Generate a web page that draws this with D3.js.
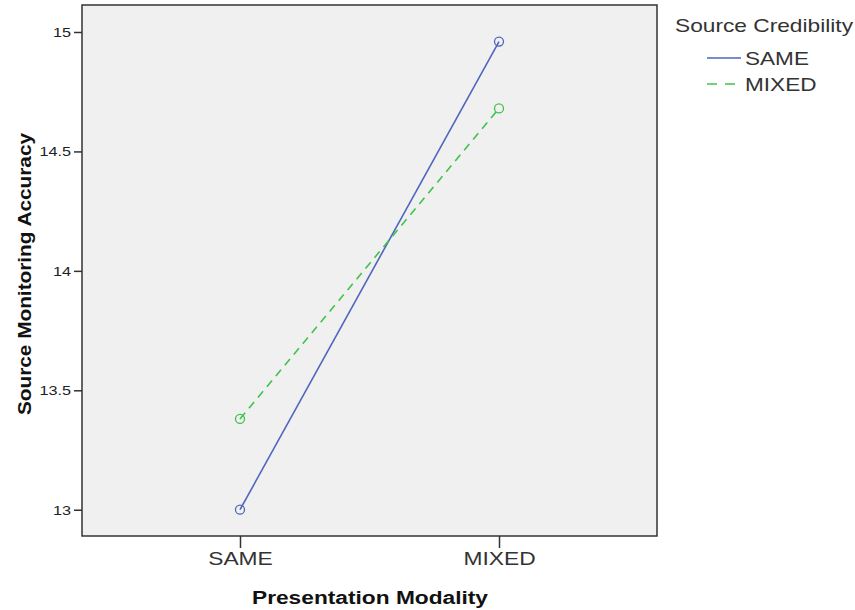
<!DOCTYPE html>
<html>
<head>
<meta charset="utf-8">
<script src="https://cdn.jsdelivr.net/npm/d3@7"></script>
<style>
  body { margin: 0; background: #fff; }
  text { font-family: "Liberation Sans", Arial, sans-serif; }
</style>
</head>
<body>
<div class="chart"></div>
<script>
var modalities = ['SAME', 'MIXED'];
var credibility = ['SAME', 'MIXED'];
var sameValues = [13.00, 14.96];
var mixedValues = [13.38, 14.68];
var yTicks = [13, 13.5, 14, 14.5, 15];
var colors = ['#4f66bd', '#3ec34a'];

var margin = { top: 5, right: 198, bottom: 74, left: 82 };
var width = 855 - margin.left - margin.right;
var height = 610 - margin.top - margin.bottom;

// the reference text is drawn a bit wider than Arial, stretch it
function stretch(sel, k) {
  sel.each(function () {
    var w = this.getComputedTextLength();
    d3.select(this)
      .attr('textLength', w * k)
      .attr('lengthAdjust', 'spacingAndGlyphs');
  });
}

var svg = d3.select('.chart')
  .append('svg')
    .attr('width', 855)
    .attr('height', 610)
  .append('g')
    .attr('transform', `translate(${margin.left}, ${margin.top})`);

svg.append('rect')
  .attr('width', width)
  .attr('height', height)
  .style('fill', '#f0f0f0');

// scales
const xScale = d3.scalePoint()
  .domain(modalities)
  .range([0, width])
  .padding(0.61);

const yScale = d3.scaleLinear()
  .domain([12.89, 15.113])
  .range([height, 0]);

// y axis
const yAxis = d3.axisLeft(yScale)
  .tickValues(yTicks)
  .tickFormat(d3.format('~g'))
  .tickSize(8)
  .tickPadding(3);
const gy = svg.append('g').call(yAxis);
gy.select('.domain').remove();
gy.selectAll('line').attr('stroke', '#333').attr('stroke-width', 1.5);
gy.selectAll('text').style('font-size', '13.5px').attr('fill', '#222').call(stretch, 1.2);

// x axis
const xAxis = d3.axisBottom(xScale)
  .tickSize(12)
  .tickPadding(4);
const gx = svg.append('g')
  .attr('transform', `translate(0, ${height})`)
  .call(xAxis);
gx.select('.domain').remove();
gx.selectAll('line').attr('stroke', '#333').attr('stroke-width', 1.5);
gx.selectAll('text').style('font-size', '19px').attr('fill', '#333').call(stretch, 1.2);

// frame
svg.append('rect')
  .attr('width', width)
  .attr('height', height)
  .style('fill', 'none')
  .style('stroke', '#333')
  .style('stroke-width', 1.5);

// lines
var series = [
  { name: credibility[0], values: sameValues, color: colors[0], dash: null },
  { name: credibility[1], values: mixedValues, color: colors[1], dash: '8,6' }
];

const line = d3.line()
  .x((d, i) => xScale(modalities[i]))
  .y(d => yScale(d));

series.forEach(function (s) {
  svg.append('path')
    .datum(s.values)
    .attr('d', line)
    .attr('fill', 'none')
    .attr('stroke', s.color)
    .attr('stroke-width', 1.6)
    .attr('stroke-dasharray', s.dash);

  svg.selectAll(null)
    .data(s.values)
    .enter()
    .append('circle')
      .attr('cx', (d, i) => xScale(modalities[i]))
      .attr('cy', d => yScale(d))
      .attr('r', 4.5)
      .attr('fill', 'none')
      .attr('stroke', s.color)
      .attr('stroke-width', 1.3);
});

// axis titles
svg.append('text')
  .attr('x', 370 - margin.left)
  .attr('y', height + 68)
  .attr('text-anchor', 'middle')
  .style('font-size', '18px')
  .style('font-weight', 'bold')
  .attr('fill', '#111')
  .text('Presentation Modality')
  .attr('textLength', 236)
  .attr('lengthAdjust', 'spacingAndGlyphs');

svg.append('text')
  .attr('transform', `translate(${31 - margin.left}, ${274 - margin.top}) rotate(-90)`)
  .attr('text-anchor', 'middle')
  .style('font-size', '18px')
  .style('font-weight', 'bold')
  .attr('fill', '#111')
  .text('Source Monitoring Accuracy')
  .attr('textLength', 282)
  .attr('lengthAdjust', 'spacingAndGlyphs');

// legend
var legend = d3.select('svg').append('g')
  .attr('transform', 'translate(675, 0)');

legend.append('text')
  .attr('x', 0)
  .attr('y', 32)
  .style('font-size', '18.5px')
  .attr('fill', '#333')
  .text('Source Credibility')
  .attr('textLength', 178)
  .attr('lengthAdjust', 'spacingAndGlyphs');

series.forEach(function (s, i) {
  var y = 58 + i * 26;
  legend.append('line')
    .attr('x1', 32).attr('x2', 66)
    .attr('y1', y).attr('y2', y)
    .attr('stroke', s.color)
    .attr('stroke-width', 1.6)
    .attr('stroke-dasharray', s.dash ? '10,8' : null);
  legend.append('text')
    .attr('x', 70)
    .attr('y', y + 6.5)
    .style('font-size', '18.5px')
    .attr('fill', '#333')
    .text(s.name)
    .call(stretch, 1.22);
});
</script>
</body>
</html>
